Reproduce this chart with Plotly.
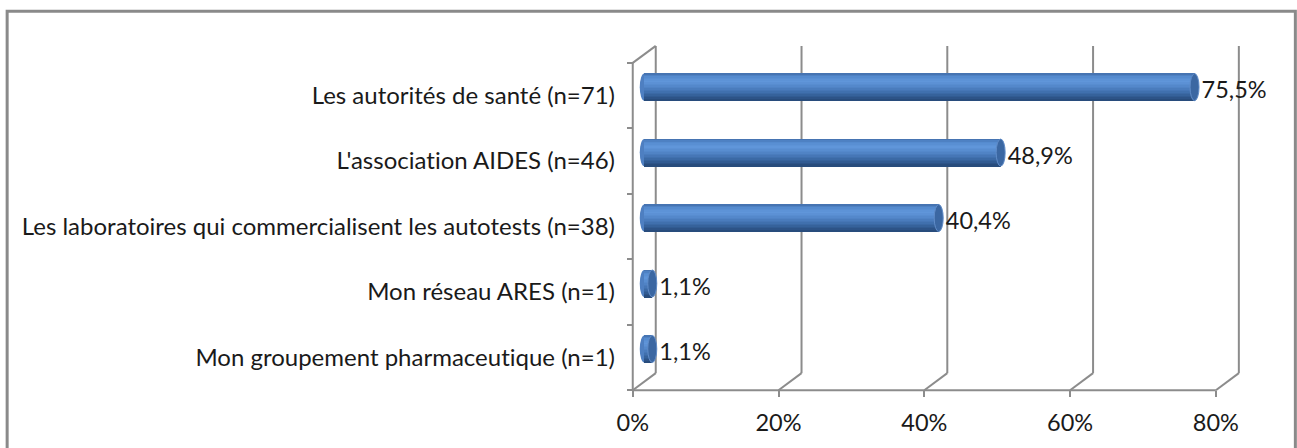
import plotly.graph_objects as go

# Data (bottom row first)
categories = [
    "Mon groupement pharmaceutique (n=1)",
    "Mon réseau ARES (n=1)",
    "Les laboratoires qui commercialisent les autotests (n=38)",
    "L'association AIDES (n=46)",
    "Les autorités de santé (n=71)",
]
values = [1.1, 1.1, 40.4, 48.9, 75.5]
x_ticks = [0, 20, 40, 60, 80]
x_tick_text = ["0%", "20%", "40%", "60%", "80%"]

# Geometry of the pseudo-3D frame (pixels)
W, H = 1297, 448
X0_PX, X_SCALE = 633.0, 7.2875      # pixel of 0 % and pixels per percent
Y_FLOOR_PX, Y_SCALE = 390.0, 65.4   # pixel of the front floor and pixels per row
DEPTH_X = 23 / X_SCALE              # depth offset in data units
DEPTH_Y = 17 / Y_SCALE
x_range = [-1.2, 84.0]
y_range = [-0.65, 4.85]

m_l = X0_PX + x_range[0] * X_SCALE
m_r = W - (X0_PX + x_range[1] * X_SCALE)
m_b = H - (Y_FLOOR_PX + (-0.5 - y_range[0]) * Y_SCALE)
m_t = Y_FLOOR_PX - (y_range[1] + 0.5) * Y_SCALE
plot_w = W - m_l - m_r
plot_h = H - m_t - m_b

FONT = "Lato"
GRID = "#8c8c8c"
TEXT = "#1a1a1a"


def no_lig(s):
    # keep Lato from fusing "ti" into a ligature
    return s.replace("ti", "t\u200ci")


fig = go.Figure()
shapes = []


def seg(x0, y0, x1, y1, layer="between"):
    shapes.append(dict(type="line", xref="x", yref="y", x0=x0, y0=y0, x1=x1, y1=y1,
                       line=dict(color=GRID, width=2), layer=layer))


top_front = len(categories) - 0.5
floor = -0.5
# back wall gridlines and floor diagonals
for t in x_ticks:
    seg(t + DEPTH_X, floor + DEPTH_Y, t + DEPTH_X, top_front + DEPTH_Y)
    seg(t, floor, t + DEPTH_X, floor + DEPTH_Y)
# front floor edge and side wall
seg(0, floor, x_ticks[-1], floor)
seg(0, floor, 0, top_front)
seg(0, top_front, DEPTH_X, top_front + DEPTH_Y)

# Cylinder bars built from thin horizontal strips for shading
BAR_T = 27 / Y_SCALE
N = 18
stops = [(0.0, (66, 110, 170)), (0.12, (84, 138, 206)), (0.3, (96, 150, 218)),
         (0.5, (82, 134, 201)), (0.7, (64, 111, 173)), (0.86, (49, 91, 146)),
         (1.0, (38, 72, 118))]


def shade(t):
    for (a, ca), (b, cb) in zip(stops, stops[1:]):
        if a <= t <= b:
            f = (t - a) / (b - a)
            c = [round(ca[k] + (cb[k] - ca[k]) * f) for k in range(3)]
            return "rgb(%d,%d,%d)" % tuple(c)
    return "rgb(38,72,118)"


base = DEPTH_X / 2
centers = [i + DEPTH_Y / 2 for i in range(len(categories))]
RX = 4.5 / X_SCALE

# rounded back ends (drawn under the bars)
for c in centers:
    shapes.append(dict(type="circle", xref="x", yref="y", layer="between",
                       x0=base - RX, x1=base + RX, y0=c - BAR_T / 2, y1=c + BAR_T / 2,
                       fillcolor="rgb(78,127,193)", line=dict(width=0)))

for i in range(N):
    t = (i + 0.5) / N
    off = BAR_T / 2 - t * BAR_T
    fig.add_trace(go.Bar(
        orientation="h", x=values, y=[c + off for c in centers], base=base,
        width=BAR_T / N * 1.25, marker=dict(color=shade(t), line=dict(width=0)),
        hoverinfo="skip", showlegend=False))

# end caps
for v, c in zip(values, centers):
    shapes.append(dict(type="circle", xref="x", yref="y", layer="above",
                       x0=base + v - RX, x1=base + v + RX, y0=c - BAR_T / 2, y1=c + BAR_T / 2,
                       fillcolor="rgb(59,103,162)", line=dict(color="rgb(96,140,200)", width=1)))

# value labels
fig.add_trace(go.Scatter(
    x=[base + v + RX + 0.35 for v in values], y=[c - 0.08 for c in centers],
    mode="text", text=[("%.1f%%" % v).replace(".", ",") for v in values],
    textposition="middle right", textfont=dict(family=FONT, size=23.5, color=TEXT),
    cliponaxis=False, hoverinfo="skip", showlegend=False))


# outer chart border
def px_to_paper_x(px):
    return (px - m_l) / plot_w


def px_to_paper_y(py):
    return (H - m_b - py) / plot_h


shapes.append(dict(type="rect", xref="paper", yref="paper",
                   x0=px_to_paper_x(7.5), x1=px_to_paper_x(1295.5),
                   y0=px_to_paper_y(460), y1=px_to_paper_y(11.5),
                   line=dict(color="#8a8a8a", width=3), fillcolor="rgba(0,0,0,0)", layer="below"))

fig.update_layout(
    width=W, height=H, barmode="overlay", bargap=0,
    margin=dict(l=m_l, r=m_r, t=m_t, b=m_b, pad=0),
    paper_bgcolor="white", plot_bgcolor="white",
    font=dict(family=FONT, size=23.5, color=TEXT),
    shapes=shapes,
    xaxis=dict(range=x_range, tickvals=x_ticks, ticktext=x_tick_text, showgrid=False,
               zeroline=False, showline=False, ticks="outside", ticklen=6, tickwidth=2,
               tickcolor=GRID, anchor="free", position=(-0.5 - y_range[0]) / (y_range[1] - y_range[0]),
               ticklabelstandoff=6, fixedrange=True),
    yaxis=dict(range=y_range, tickvals=list(range(len(categories))),
               ticktext=[no_lig(c) for c in categories],
               tickfont=dict(family=FONT, size=24, color=TEXT),
               showgrid=False, zeroline=False, showline=False, ticks="",
               ticklabelstandoff=8, fixedrange=True),
    yaxis2=dict(range=y_range, overlaying="y", anchor="free", side="left",
                position=(0 - x_range[0]) / (x_range[1] - x_range[0]),
                tickvals=[k - 0.5 for k in range(len(categories) + 1)],
                ticks="outside", ticklen=6, tickwidth=2, tickcolor=GRID,
                showticklabels=False, showgrid=False, zeroline=False, showline=False),
    hovermode=False,
)
# empty trace so the secondary axis is drawn
fig.add_trace(go.Scatter(x=[None], y=[None], yaxis="y2", showlegend=False, hoverinfo="skip"))

fig.write_html("out.html")
